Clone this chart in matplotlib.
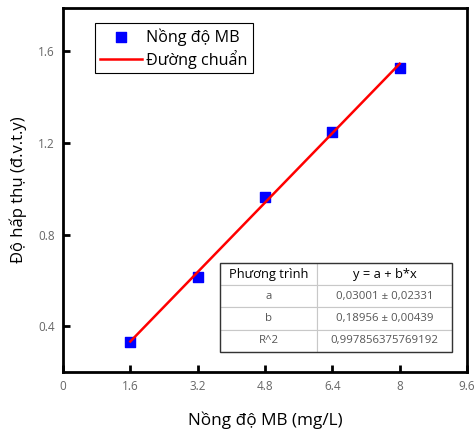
import numpy as np
import matplotlib
matplotlib.use("Agg")
import matplotlib.pyplot as plt
from matplotlib.patches import Rectangle

# data
conc = [1.6, 3.2, 4.8, 6.4, 8.0]
absorb = [0.33, 0.616, 0.966, 1.248, 1.53]
fit_a = 0.03001
fit_b = 0.18956
x_ticks = [0, 1.6, 3.2, 4.8, 6.4, 8, 9.6]
x_tick_labels = ["0", "1.6", "3.2", "4.8", "6.4", "8", "9.6"]
y_ticks = [0.4, 0.8, 1.2, 1.6]
table_rows = [
    ["Phương trình", "y = a + b*x"],
    ["a", "0,03001 ± 0,02331"],
    ["b", "0,18956 ± 0,00439"],
    ["R^2", "0,997856375769192"],
]

plt.rcParams["font.family"] = ["Open Sans", "DejaVu Sans"]

fig = plt.figure(figsize=(4.74, 4.37), dpi=100)
ax = fig.add_axes([63 / 474, 65 / 437, 404 / 474, 364 / 437])

ax.scatter(conc, absorb, marker="s", s=62, color="#0000ff", label="Nồng độ MB", zorder=2)
xfit = np.array([conc[0], conc[-1]])
ax.plot(xfit, fit_a + fit_b * xfit, color="#ff0000", lw=1.8, label="Đường chuẩn", zorder=3)

ax.set_xlim(0, 9.6)
ax.set_ylim(0.2, 1.79)
ax.set_xticks(x_ticks)
ax.set_xticklabels(x_tick_labels)
ax.set_yticks(y_ticks)
ax.set_yticklabels([f"{v:.1f}" for v in y_ticks])
ax.tick_params(direction="in", length=5, width=2, labelsize=8.5, labelcolor="#666666", pad=6)
for s in ax.spines.values():
    s.set_linewidth(2)

ax.set_xlabel("Nồng độ MB (mg/L)", fontsize=12.3, labelpad=13)
ax.set_ylabel("Độ hấp thụ (đ.v.t.y)", fontsize=12, labelpad=8)

leg = ax.legend(loc="upper left", bbox_to_anchor=(0.079, 0.958), borderaxespad=0, fontsize=11.6,
                fancybox=False, edgecolor="black", framealpha=1,
                handlelength=2.6, borderpad=0.3, labelspacing=0.25, handletextpad=0.3)
leg.get_frame().set_linewidth(0.8)

tbl = ax.table(cellText=table_rows, cellLoc="center", colWidths=[0.42, 0.58],
               bbox=[0.3886, 0.055, 0.5744, 0.2445])
tbl.auto_set_font_size(False)
for (r, c), cell in tbl.get_celld().items():
    cell.set_edgecolor("#c8c8c8")
    cell.set_linewidth(0.8)
    cell.set_facecolor("white")
    if r == 0:
        cell.get_text().set_fontsize(9.3)
        cell.get_text().set_color("black")
    else:
        cell.get_text().set_fontsize(8.2)
        cell.get_text().set_color("#555555")
# outer border
ax.add_patch(Rectangle((0.3886, 0.055), 0.5744, 0.2445, transform=ax.transAxes,
                       fill=False, edgecolor="#333333", lw=1.0, zorder=10))

fig.savefig("out.png", dpi=100, facecolor="white")
